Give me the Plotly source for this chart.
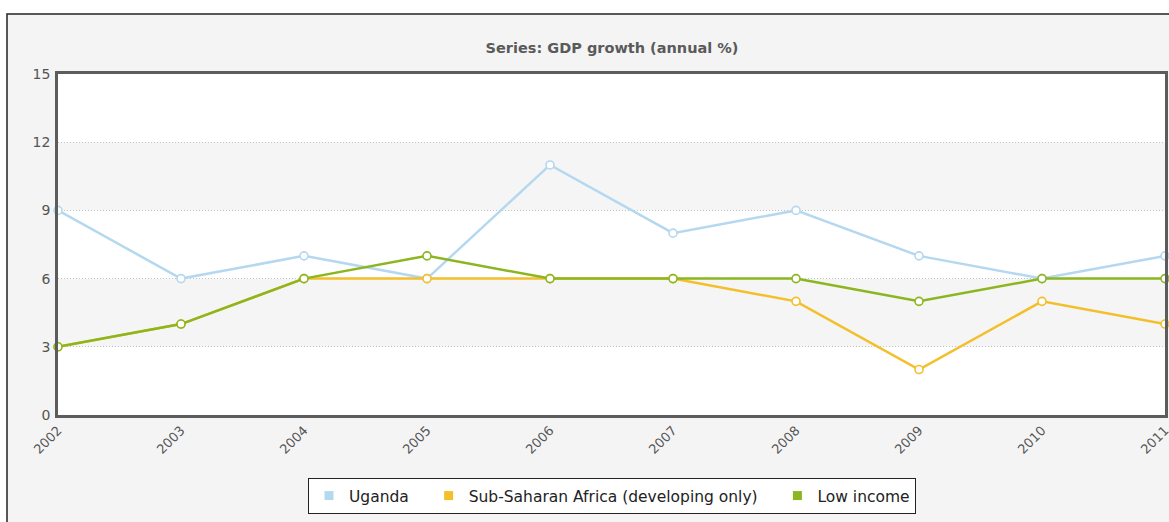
import plotly.graph_objects as go

years = [2002, 2003, 2004, 2005, 2006, 2007, 2008, 2009, 2010, 2011]
uganda = [9, 6, 7, 6, 11, 8, 9, 7, 6, 7]
ssa = [3, 4, 6, 6, 6, 6, 5, 2, 5, 4]
low_income = [3, 4, 6, 7, 6, 6, 6, 5, 6, 6]
y_ticks = [0, 3, 6, 9, 12, 15]
series = [
    ("Uganda", uganda, "#b4d8f0"),
    ("Sub-Saharan Africa (developing only)", ssa, "#f3bf2b"),
    ("Low income", low_income, "#8cb61f"),
]

FONT = "DejaVu Sans"
W, H = 1169, 522
L, T = 58, 74
PR, PB = 1165, 415
R, B = W - PR, H - PB
pw, ph = W - L - R, H - T - B

fig = go.Figure()
for name, vals, col in series:
    fig.add_trace(go.Scatter(
        x=years, y=vals, mode="lines+markers", name=name, showlegend=False,
        line=dict(color=col, width=2.5),
        marker=dict(size=8, color="white", line=dict(color=col, width=1.6)),
        cliponaxis=False,
    ))
NB = "\u00a0"
for i, (name, vals, col) in enumerate(series):
    fig.add_trace(go.Scatter(
        x=[None], y=[None], mode="markers",
        name=name + (NB * 3 if i < len(series) - 1 else ""),
        marker=dict(symbol="square", size=9, color=col),
    ))

def px_x(v):
    return (v - L) / pw

def px_y(v):
    return (PB - v) / ph

shapes = []
shapes.append(dict(type="rect", xref="paper", yref="paper", layer="below",
                   x0=px_x(7), x1=px_x(W + 10),
                   y0=px_y(H + 10), y1=px_y(14),
                   fillcolor="#f4f4f4", line=dict(color="#222222", width=1.5)))
shapes.append(dict(type="rect", xref="x", yref="y", layer="below",
                   x0=years[0], x1=years[-1], y0=y_ticks[0], y1=y_ticks[-1],
                   fillcolor="white", line=dict(width=0)))
for i in range(1, len(y_ticks) - 1, 2):
    shapes.append(dict(type="rect", xref="x", yref="y", layer="below",
                       x0=years[0], x1=years[-1], y0=y_ticks[i], y1=y_ticks[i + 1],
                       fillcolor="#f5f5f5", line=dict(width=0)))

fig.update_layout(
    width=W, height=H,
    margin=dict(l=L, r=R, t=T, b=B, autoexpand=False),
    paper_bgcolor="white",
    plot_bgcolor="rgba(0,0,0,0)",
    shapes=shapes,
    title=dict(text="<b>Series: GDP growth (annual %)</b>", x=612 / W, xanchor="center",
               y=1 - 48 / H, yanchor="middle", yref="container",
               font=dict(family=FONT, size=14.5, color="#5a5a5a")),
    xaxis=dict(range=[years[0], years[-1]], tickvals=years, ticktext=[str(y) for y in years],
               tickangle=-45, showgrid=False, zeroline=False, automargin=False,
               ticklabeloverflow="allow",
               showline=True, mirror=True, linecolor="#5c5c5c", linewidth=2.5,
               ticks="", tickfont=dict(family=FONT, size=13, color="#555555")),
    yaxis=dict(range=[y_ticks[0], y_ticks[-1]], tickvals=y_ticks, automargin=False,
               showgrid=True, gridcolor="#c4c4c4", griddash="1px,2px", gridwidth=1,
               zeroline=False, showline=True, mirror=True, linecolor="#5c5c5c", linewidth=2.5,
               ticks="", ticklabelstandoff=2,
               tickfont=dict(family=FONT, size=14, color="#555555")),
    legend=dict(orientation="h", x=px_x(612), xanchor="center",
                y=px_y(478), yanchor="top",
                bgcolor="white", bordercolor="#222222", borderwidth=1,
                font=dict(family=FONT, size=15.5, color="#222222"),
                itemclick=False, itemdoubleclick=False),
    showlegend=True,
)

fig.write_html(
    "out.html",
    config={"displayModeBar": False},
    post_script="document.body.style.margin='0';document.body.style.overflow='hidden';",
)
